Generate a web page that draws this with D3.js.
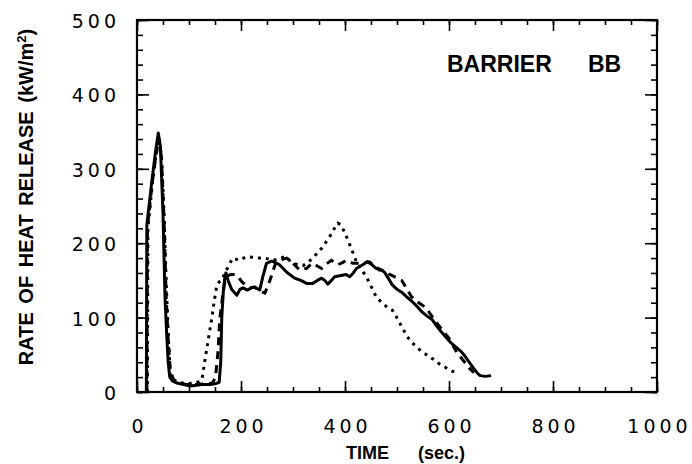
<!DOCTYPE html>
<html>
<head>
<meta charset="utf-8">
<script src="https://cdn.jsdelivr.net/npm/d3@7"></script>
<style>
  body { margin: 0; background: #fff; }
  svg { display: block; }
  .tick text { font-family: "DejaVu Sans", sans-serif; font-size: 19px; letter-spacing: 4px; fill: #000; }
  .title { font-family: "Liberation Sans", Arial, sans-serif; font-weight: bold; fill: #000; }
</style>
</head>
<body>
<svg width="692" height="464"></svg>
<script>
// time (sec.), rate of heat release (kW/m2)
var solid = [[18,0],[19,225],[28,280],[36,325],[41,348],[45,330],[50,240],[54,124],[57,79],[60,40],[63,20],[68,15],[77,12],[90,10],[102,8],[115,9],[125,10],[140,10],[150,11],[158,13],[161,40],[163,100],[166,135],[169,155],[171,160],[175,150],[182,138],[192,130],[198,138],[204,140],[212,137],[220,140],[226,141],[236,137],[242,155],[249,173],[259,176],[266,174],[274,171],[288,161],[303,153],[315,150],[326,146],[338,146],[347,150],[355,153],[361,150],[367,145],[374,150],[380,155],[395,157],[402,158],[409,155],[416,160],[422,166],[434,171],[443,175],[452,171],[460,166],[468,165],[476,161],[484,152],[491,144],[500,138],[511,133],[520,127],[530,121],[540,114],[549,107],[558,102],[568,97],[576,89],[585,81],[595,73],[604,66],[614,60],[624,54],[632,47],[639,40],[647,32],[655,25],[660,22],[670,21],[681,22]];
var dashed = [[19,0],[20,220],[29,280],[37,320],[42,340],[47,315],[52,230],[56,130],[60,70],[64,30],[70,17],[80,12],[95,10],[110,10],[130,11],[145,12],[151,20],[153,34],[156,56],[159,97],[163,120],[168,145],[172,155],[180,158],[188,158],[194,155],[202,148],[210,143],[218,140],[226,141],[236,136],[246,133],[253,145],[259,157],[264,168],[268,175],[278,178],[288,180],[294,177],[300,173],[307,168],[313,164],[320,166],[326,166],[336,173],[345,170],[355,166],[364,172],[374,177],[386,171],[395,174],[403,177],[415,173],[428,173],[437,174],[447,175],[457,170],[466,164],[476,163],[486,158],[495,155],[509,150],[528,128],[540,121],[556,113],[566,103],[576,93],[588,83],[600,72],[608,62],[616,52],[628,42],[639,32],[648,26]];
var dotted = [[20,0],[21,220],[31,290],[38,325],[42,340],[47,318],[52,240],[56,150],[60,79],[64,22],[70,16],[80,13],[95,11],[110,12],[120,14],[125,17],[130,40],[137,70],[144,100],[148,120],[153,141],[158,148],[163,150],[169,160],[175,168],[184,180],[197,177],[205,180],[213,182],[222,181],[230,180],[246,180],[262,177],[272,179],[284,182],[297,175],[305,172],[313,170],[320,170],[330,175],[341,182],[348,188],[355,193],[362,200],[370,208],[378,218],[386,227],[392,225],[399,215],[405,205],[412,193],[422,175],[431,165],[441,155],[451,141],[460,128],[468,122],[476,117],[483,113],[491,110],[498,102],[505,93],[512,84],[520,74],[528,67],[537,61],[545,56],[553,52],[563,47],[572,43],[581,38],[591,34],[600,30],[610,27],[615,26]];

var xMajor = [0, 200, 400, 600, 800, 1000];
var xMinor = d3.range(0, 1001, 50);
var yMajor = [0, 100, 200, 300, 400, 500];
var yMinor = d3.range(0, 501, 20);

(function() {
  var svg = d3.select("svg");
  var pLeft = 137, pRight = 657, pTop = 20, pBottom = 392;

  var x = d3.scaleLinear().domain([0, 1000]).range([pLeft, pRight]);
  var y = d3.scaleLinear().domain([0, 500]).range([pBottom, pTop]);

  function ticks(axis, vals, size) {
    return axis.tickValues(vals).tickSize(size).tickSizeOuter(0).tickFormat("");
  }
  function tickGroup(tr, ax) {
    var g = svg.append("g").attr("transform", tr).call(ax);
    g.select(".domain").remove();
    g.selectAll("line").attr("stroke", "#000").attr("stroke-width", 1.6);
    return g;
  }

  // inward ticks on all four sides
  tickGroup("translate(0," + pBottom + ")", ticks(d3.axisBottom(x), xMinor, -5));
  tickGroup("translate(0," + pBottom + ")", ticks(d3.axisBottom(x), xMajor, -11));
  tickGroup("translate(0," + pTop + ")", ticks(d3.axisTop(x), xMinor, -5));
  tickGroup("translate(0," + pTop + ")", ticks(d3.axisTop(x), xMajor, -11));
  tickGroup("translate(" + pLeft + ",0)", ticks(d3.axisLeft(y), yMinor, -6));
  tickGroup("translate(" + pLeft + ",0)", ticks(d3.axisLeft(y), yMajor, -12));
  tickGroup("translate(" + pRight + ",0)", ticks(d3.axisRight(y), yMinor, -6));
  tickGroup("translate(" + pRight + ",0)", ticks(d3.axisRight(y), yMajor, -12));

  // frame
  svg.append("rect")
    .attr("x", pLeft).attr("y", pTop)
    .attr("width", pRight - pLeft).attr("height", pBottom - pTop)
    .attr("fill", "none").attr("stroke", "#000").attr("stroke-width", 2.2);

  // tick labels
  var xl = svg.append("g").attr("transform", "translate(0," + pBottom + ")")
    .call(d3.axisBottom(x).tickValues(xMajor).tickSize(0).tickPadding(28).tickFormat(d3.format("d")));
  xl.select(".domain").remove();
  xl.selectAll("text").attr("dx", 2);

  var yl = svg.append("g").attr("transform", "translate(" + pLeft + ",1.5)")
    .call(d3.axisLeft(y).tickValues(yMajor).tickSize(0).tickPadding(17).tickFormat(d3.format("d")));
  yl.select(".domain").remove();

  // curves
  var line = d3.line().x(function(d) { return x(d[0]); }).y(function(d) { return y(d[1]); });

  svg.append("path").datum(dotted).attr("d", line)
    .attr("fill", "none").attr("stroke", "#000").attr("stroke-width", 3)
    .attr("stroke-dasharray", "3,5");
  svg.append("path").datum(dashed).attr("d", line)
    .attr("fill", "none").attr("stroke", "#000").attr("stroke-width", 3)
    .attr("stroke-dasharray", "8,6");
  svg.append("path").datum(solid).attr("d", line)
    .attr("fill", "none").attr("stroke", "#000").attr("stroke-width", 3)
    .attr("stroke-linejoin", "round");

  // titles
  svg.append("text").attr("class", "title")
    .attr("x", 447).attr("y", 72).attr("font-size", 23)
    .text("BARRIER");
  svg.append("text").attr("class", "title")
    .attr("x", 588).attr("y", 72).attr("font-size", 23)
    .text("BB");

  svg.append("text").attr("class", "title")
    .attr("x", 346).attr("y", 459).attr("font-size", 18)
    .text("TIME");
  svg.append("text").attr("class", "title")
    .attr("x", 418).attr("y", 459).attr("font-size", 18)
    .text("(sec.)");

  var yt = svg.append("text").attr("class", "title")
    .attr("transform", "translate(33,197) rotate(-90)")
    .attr("text-anchor", "middle").attr("font-size", 20)
    .attr("word-spacing", 3);
  yt.append("tspan").text("RATE OF HEAT RELEASE (kW/m");
  yt.append("tspan").attr("dy", -7).attr("font-size", 13).text("2");
  yt.append("tspan").attr("dy", 7).text(")");
})();
</script>
</body>
</html>
